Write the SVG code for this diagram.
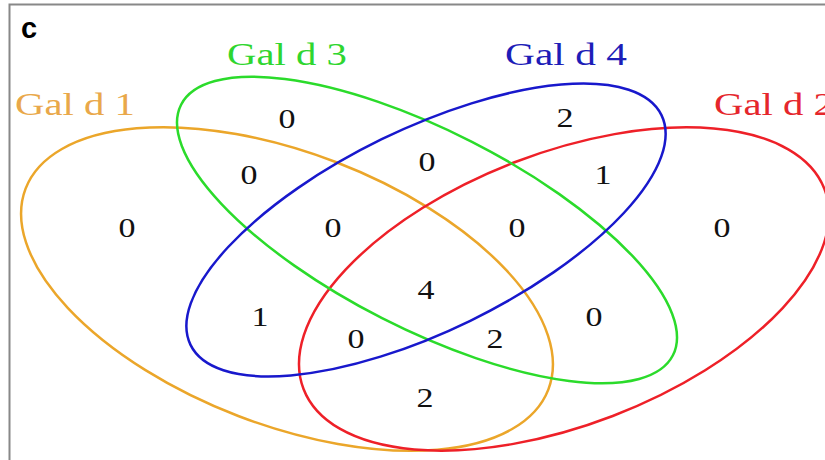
<svg xmlns="http://www.w3.org/2000/svg" width="825" height="460" viewBox="0 0 825 460">
  <style>
    .set { fill: none; stroke-width: 2.5; }
    .lbl { font-family: "Liberation Serif", "Times New Roman", serif; font-size: 32px; }
    .num { font-family: "Liberation Serif", "Times New Roman", serif; font-size: 27px; fill: #111; text-anchor: middle; }
    .frame { fill: none; stroke: #888; stroke-width: 2; }
  </style>
  <rect width="825" height="460" fill="#fff"/>
  <path class="frame" d="M9.5,460 V4.5 H825"/>
  <text x="21" y="38" font-family="Liberation Sans, Arial, sans-serif" font-weight="bold" font-size="29">c</text>

  <g id="connectors"/>

  <g id="set-gal-d-1">
    <ellipse class="set" stroke="#EBA62A" cx="287" cy="289" rx="280" ry="136" transform="rotate(21 287 289)"/>
    <text class="lbl" fill="#E9A84A" x="15" y="115" textLength="120" lengthAdjust="spacingAndGlyphs">Gal d 1</text>
  </g>
  <g id="set-gal-d-2">
    <ellipse class="set" stroke="#EE2028" cx="564" cy="289" rx="279" ry="136" transform="rotate(-21 564 289)"/>
    <text class="lbl" fill="#E5262C" x="714" y="115" textLength="120" lengthAdjust="spacingAndGlyphs">Gal d 2</text>
  </g>
  <g id="set-gal-d-3">
    <ellipse class="set" stroke="#2BDB2B" cx="427" cy="230" rx="276" ry="99" transform="rotate(27 427 230)"/>
    <text class="lbl" fill="#2FD62F" x="227" y="65" textLength="120" lengthAdjust="spacingAndGlyphs">Gal d 3</text>
  </g>
  <g id="set-gal-d-4">
    <ellipse class="set" stroke="#1818CC" cx="426" cy="230" rx="262" ry="101" transform="rotate(-26 426 230)"/>
    <text class="lbl" fill="#1D1DB8" x="505" y="65" textLength="122" lengthAdjust="spacingAndGlyphs">Gal d 4</text>
  </g>

  <g id="counts">
    <text class="num" x="287" y="128" textLength="17" lengthAdjust="spacingAndGlyphs">0</text>
    <text class="num" x="565" y="127" textLength="17" lengthAdjust="spacingAndGlyphs">2</text>
    <text class="num" x="249" y="184" textLength="17" lengthAdjust="spacingAndGlyphs">0</text>
    <text class="num" x="427" y="171" textLength="17" lengthAdjust="spacingAndGlyphs">0</text>
    <text class="num" x="603" y="184" textLength="17" lengthAdjust="spacingAndGlyphs">1</text>
    <text class="num" x="127" y="237" textLength="17" lengthAdjust="spacingAndGlyphs">0</text>
    <text class="num" x="333" y="237" textLength="17" lengthAdjust="spacingAndGlyphs">0</text>
    <text class="num" x="517" y="237" textLength="17" lengthAdjust="spacingAndGlyphs">0</text>
    <text class="num" x="722" y="237" textLength="17" lengthAdjust="spacingAndGlyphs">0</text>
    <text class="num" x="426" y="299" textLength="17" lengthAdjust="spacingAndGlyphs">4</text>
    <text class="num" x="260" y="326" textLength="17" lengthAdjust="spacingAndGlyphs">1</text>
    <text class="num" x="594" y="326" textLength="17" lengthAdjust="spacingAndGlyphs">0</text>
    <text class="num" x="356" y="348" textLength="17" lengthAdjust="spacingAndGlyphs">0</text>
    <text class="num" x="495" y="348" textLength="17" lengthAdjust="spacingAndGlyphs">2</text>
    <text class="num" x="425" y="407" textLength="17" lengthAdjust="spacingAndGlyphs">2</text>
  </g>
</svg>
